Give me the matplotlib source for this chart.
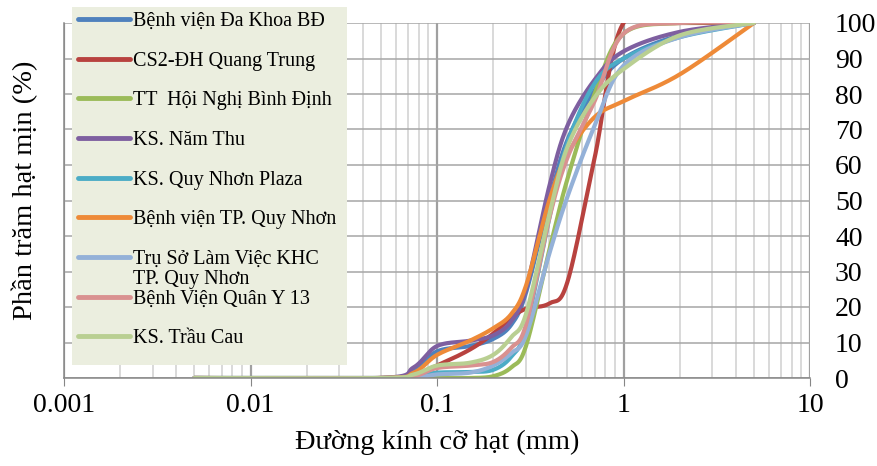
import numpy as np
import matplotlib
matplotlib.use("Agg")
import matplotlib.pyplot as plt
from matplotlib.patches import Rectangle
from matplotlib.ticker import FixedLocator, NullFormatter

plt.rcParams['font.family'] = ['Liberation Serif', 'DejaVu Serif']

# grain size (mm) and percent passing for each site
diam = [0.005, 0.05, 0.075, 0.1, 0.15, 0.2, 0.25, 0.3, 0.4, 0.5, 0.7, 1, 2, 5]

da_khoa = [0, 0, 2, 7.5, 9, 11, 15, 24, 50, 67, 81, 90, 96.5, 100]
quang_trung = [0, 0, 1, 3.5, 8, 12.5, 17, 19.5, 21, 27, 62, 100, 100, 100]
hoi_nghi = [0, 0, 0, 0, 0, 0.5, 3, 9, 36, 56, 80, 97, 100, 100]
nam_thu = [0, 0, 3, 9, 10.5, 12, 16, 25, 54, 71, 84, 92, 97.5, 100]
plaza = [0, 0, 0.5, 1.5, 1.7, 2.3, 6, 14, 45, 66, 83, 90, 96, 100]
bv_quy_nhon = [0, 0, 1.5, 6.5, 10.5, 14, 18, 26, 50, 63, 73.5, 78, 85.5, 100]
tru_so = [0, 0, 0, 1, 1.5, 3.5, 7, 12, 35, 51, 71, 88, 96, 100]
quan_y = [0, 0, 0.5, 2.8, 3.5, 4.5, 8.5, 15, 45, 62, 78, 97, 100, 100]
trau_cau = [0, 0, 1, 3.5, 4.3, 6.5, 11.5, 18, 46, 65, 79, 87, 96.5, 100]

labels = ["Bệnh viện Đa Khoa BĐ", "CS2-ĐH Quang Trung", "TT  Hội Nghị Bình Định",
          "KS. Năm Thu", "KS. Quy Nhơn Plaza", "Bệnh viện TP. Quy Nhơn",
          "Trụ Sở Làm Việc KHC", "Bệnh Viện Quân Y 13", "KS. Trầu Cau"]
series = [da_khoa, quang_trung, hoi_nghi, nam_thu, plaza, bv_quy_nhon,
          tru_so, quan_y, trau_cau]
colors = ["#4F81BD", "#B8423F", "#9BBB59", "#7E5FA0", "#4BACC6", "#EE8A38",
          "#94B1D8", "#D99190", "#B9CF92"]


def smooth(x, y, n=30):
    # Catmull-Rom through the points in log-x space (like a smoothed Excel line)
    lx = np.log10(x)
    y = np.asarray(y, float)
    px = np.concatenate([[lx[0]], lx, [lx[-1]]])
    py = np.concatenate([[y[0]], y, [y[-1]]])
    ox, oy = [], []
    t = np.linspace(0, 1, n)
    for i in range(1, len(px) - 2):
        x0, x1, x2, x3 = px[i - 1:i + 3]
        y0, y1, y2, y3 = py[i - 1:i + 3]
        h00 = 2 * t**3 - 3 * t**2 + 1
        h10 = t**3 - 2 * t**2 + t
        h01 = -2 * t**3 + 3 * t**2
        h11 = t**3 - t**2
        mx1, mx2 = (x2 - x0) / 2, (x3 - x1) / 2
        my1, my2 = (y2 - y0) / 2, (y3 - y1) / 2
        ox.append(h00 * x1 + h10 * mx1 + h01 * x2 + h11 * mx2)
        oy.append(h00 * y1 + h10 * my1 + h01 * y2 + h11 * my2)
    return 10 ** np.concatenate(ox), np.concatenate(oy)


fig = plt.figure(figsize=(8.78, 4.66), dpi=100)
ax = fig.add_axes([64 / 878, 1 - 378 / 466, 746 / 878, 355 / 466])

for vals, lab, c in zip(series, labels, colors):
    sx, sy = smooth(diam, vals)
    ax.plot(sx, sy, color=c, lw=3, label=lab, solid_capstyle='round')

ax.set_xscale('log')
ax.set_xlim(0.001, 10)
ax.set_ylim(0, 100)
ax.set_xticks([0.001, 0.01, 0.1, 1, 10])
ax.set_xticklabels(['0.001', '0.01', '0.1', '1', '10'])
ax.xaxis.set_minor_locator(FixedLocator(
    [m * 10.0**e for e in range(-3, 1) for m in range(2, 10)]))
ax.xaxis.set_minor_formatter(NullFormatter())
ax.set_yticks(range(0, 101, 10))
ax.yaxis.tick_right()

ax.tick_params(axis='x', which='major', length=6, color='#868686',
               labelsize=20, pad=5)
ax.tick_params(axis='x', which='minor', length=0)
ax.tick_params(axis='y', length=0, labelsize=20, pad=18)
for lab in ax.get_yticklabels():
    lab.set_horizontalalignment('left')

ax.grid(True, which='major', axis='y', color='#A6A6A6', lw=1.1)
ax.grid(True, which='major', axis='x', color='#A0A0A0', lw=1.6)
ax.grid(True, which='minor', axis='x', color='#D0D0D0', lw=1.1)
ax.set_axisbelow(True)
for s in ['top', 'right']:
    ax.spines[s].set_visible(False)
for s in ['left', 'bottom']:
    ax.spines[s].set_color('#868686')
    ax.spines[s].set_linewidth(1.1)

ax.set_xlabel('Đường kính cỡ hạt (mm)', fontsize=20.5, labelpad=8)
fig.text(0.028, 0.592, 'Phần trăm hạt mịn (%)', rotation=90, fontsize=20.5,
         ha='center', va='center')

# legend panel
ax.add_patch(Rectangle((72 / 878, 1 - 365 / 466), 275 / 878, 358 / 466,
                       transform=fig.transFigure, clip_on=False,
                       facecolor='#EBEEDF', edgecolor='none', zorder=4))
leg = ax.legend(loc='upper left', bbox_to_anchor=(72 / 878, 1 - 6 / 466),
                bbox_transform=fig.transFigure, fontsize=14.5, frameon=False,
                handlelength=2.6, handletextpad=0.15,
                labelspacing=1.02, borderpad=0.3, borderaxespad=0)
for line in leg.get_lines():
    line.set_linewidth(3.5)
ax.annotate('TP. Quy Nhơn', xy=(0, 0), xycoords=leg.get_texts()[6],
            xytext=(0, -1), textcoords='offset points', fontsize=14.5,
            ha='left', va='top', zorder=6, annotation_clip=False)

fig.savefig('out.png', dpi=100)
